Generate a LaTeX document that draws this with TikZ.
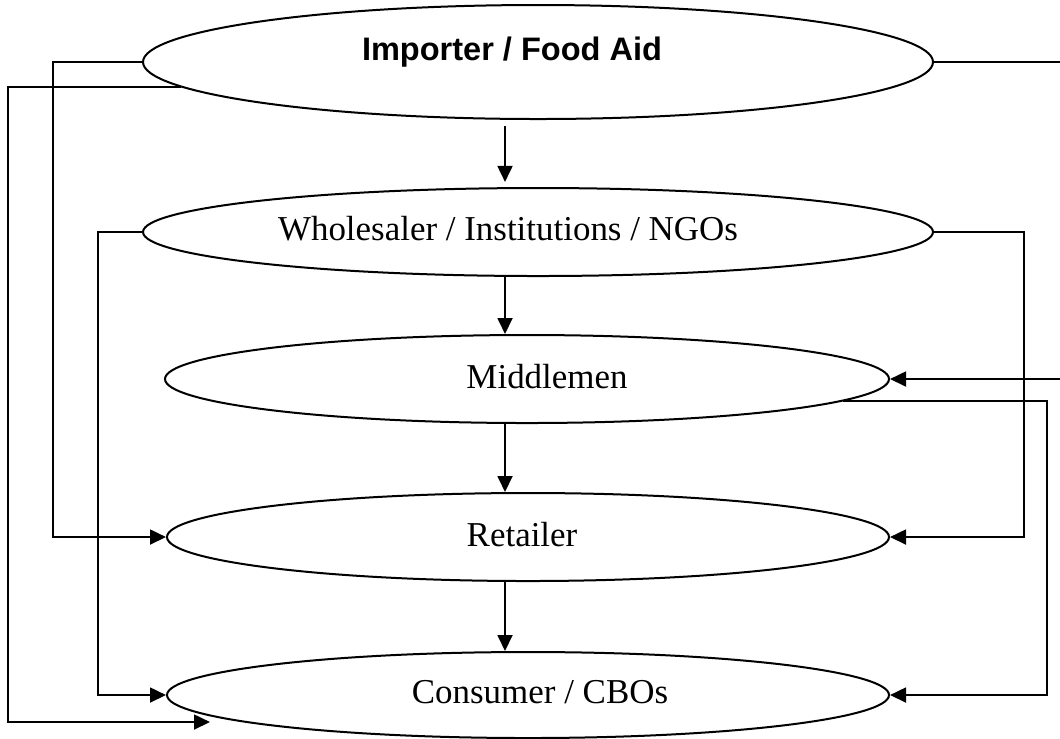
\documentclass[tikz,border=0pt]{standalone}
\usepackage{fontspec}
\setmainfont{Liberation Serif}
\newfontfamily\arialfont{Liberation Sans}
\usetikzlibrary{shapes.geometric,arrows.meta,calc}
\newcommand\pxu{0.375pt}
\tikzset{
  stage/.style 2 args={ellipse,draw,line width=0.75pt,inner sep=0pt,minimum width=#1*\pxu,minimum height=#2*\pxu},
  flow/.style={line width=0.75pt,-{Triangle[length=6pt,width=5.6pt]}},
  txt/.style={anchor=base,inner sep=0pt,font=\fontsize{13.1}{16}\selectfont}
}
\begin{document}
\begin{tikzpicture}[x=\pxu,y=-\pxu]
  \useasboundingbox (0,0) rectangle (1060,738);
  \clip (0,0) rectangle (1060,738);
  \node[stage={790}{114}] (imp) at (538,62) {};
  \node[stage={790}{88}] (whl) at (538,232) {};
  \node[stage={724}{88}] (mid) at (527,379) {};
  \node[stage={722}{88}] (ret) at (528,537) {};
  \node[stage={722}{86}] (con) at (528,695) {};
  \node[txt,font=\arialfont\bfseries\fontsize{12.2}{15}\selectfont] (imptxt) at (512,60) {Importer / Food Aid};
  \node[txt] (whltxt) at (508,240) {Wholesaler / Institutions / NGOs};
  \node[txt] (midtxt) at (547,388) {Middlemen};
  \node[txt] (rettxt) at (522,546) {Retailer};
  \node[txt] (context) at (540,703) {Consumer / CBOs};
  \coordinate (col) at (505,0);
  \coordinate (lA) at (8,0);
  \coordinate (lB) at (53,0);
  \coordinate (lC) at (98,0);
  \coordinate (rA) at (1024,0);
  \coordinate (rB) at (1047,0);
  \coordinate (rC) at (1070,0);
  \coordinate (conin) at (210,722);
  \draw[flow,shorten <=2.25pt,shorten >=1.9pt] (imp.south -| col) -- (whl.north -| col);
  \draw[flow] (whl.south -| col) -- (mid.north -| col);
  \draw[flow] (mid.south -| col) -- (ret.north -| col);
  \draw[flow] (ret.south -| col) -- (con.north -| col);
  \draw[flow] (imp.west) -- (imp.west -| lB) |- (ret.west);
  \draw[flow] (imp.184.4) -- (imp.184.4 -| lA) |- (conin);
  \draw[flow] (whl.west) -- (whl.west -| lC) |- (con.west);
  \draw[flow] (imp.east) -- (imp.east -| rC) |- (mid.east);
  \draw[flow] (whl.east) -- (whl.east -| rA) |- (ret.east);
  \draw[flow] (mid.-4) -- (mid.-4 -| rB) |- (con.east);
\end{tikzpicture}
\end{document}
